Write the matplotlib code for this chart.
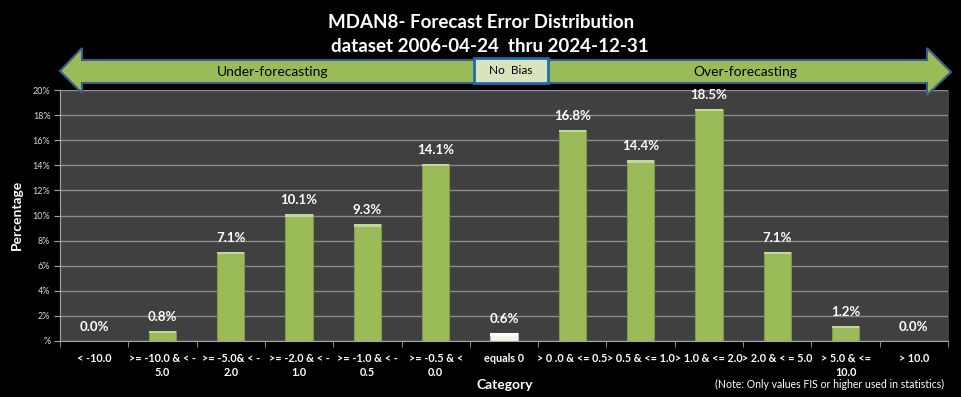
import numpy as np
import matplotlib.pyplot as plt
from matplotlib.patches import Polygon, Rectangle

plt.rcParams['font.family'] = ['Lato', 'DejaVu Sans']

# category labels and percentages
categories = ['< -10.0', '>= -10.0 & < -\n5.0', '>= -5.0& < -\n2.0', '>= -2.0 & < -\n1.0',
              '>= -1.0 & < -\n0.5', '>= -0.5 & <\n0.0', 'equals 0', '> 0 .0 & <= 0.5',
              '> 0.5 & <= 1.0', '> 1.0 & <= 2.0', '> 2.0 & < = 5.0', '> 5.0 & <=\n10.0', '> 10.0']
percent = [0.0, 0.8, 7.1, 10.1, 9.3, 14.1, 0.6, 16.8, 14.4, 18.5, 7.1, 1.2, 0.0]
ytick_labels = ['%', '2%', '4%', '6%', '8%', '10%', '12%', '14%', '16%', '18%', '20%']

W, H = 961, 397
fig = plt.figure(figsize=(W / 100, H / 100), dpi=100, facecolor='black')

def fx(px):
    return px / W

def fy(py):
    return 1 - py / H

ax = fig.add_axes([fx(60), fy(341), fx(948) - fx(60), fy(90) - fy(341)])
ax.set_facecolor('#404040')

x = np.arange(len(categories))
colors = ['#F2F5EA' if c == 'equals 0' else '#9BBB59' for c in categories]
edges = ['#B9C79A' if c == 'equals 0' else '#7F9A48' for c in categories]
bars = ax.bar(x, percent, width=0.4, color=colors, edgecolor=edges, linewidth=0.8, zorder=3)
# light bevel on the top of each bar
for b, p, c in zip(bars, percent, categories):
    if p > 0:
        top = '#FFFFFF' if c == 'equals 0' else '#C3D69B'
        ax.bar(b.get_x() + b.get_width() / 2, 0.18, bottom=p - 0.18, width=0.4,
               color=top, linewidth=0, zorder=4)

for xi, p in zip(x, percent):
    ax.text(xi, p + 0.65, f'{p:.1f}%', ha='center', va='bottom', color='white',
            fontsize=9.5, fontweight='bold', zorder=5)

ax.set_xlim(-0.5, len(categories) - 0.5)
ax.set_ylim(0, 20)
ax.set_yticks(np.arange(0, 21, 2))
ax.set_yticklabels(ytick_labels, color='#D9D9D9', fontsize=6.5)
ax.yaxis.grid(True, color='#8C8C8C', linewidth=1)
ax.set_axisbelow(True)

ax.set_xticks(x)
ax.set_xticklabels(categories, color='white', fontsize=7.8, fontweight='bold', linespacing=1.3)
ax.tick_params(axis='x', length=0, pad=9)
ax.set_xticks(np.arange(-0.5, len(categories)), minor=True)
ax.tick_params(axis='x', which='minor', length=4, color='#A6A6A6')
ax.tick_params(axis='y', length=4, color='#A6A6A6', pad=3)

for s in ['top', 'right']:
    ax.spines[s].set_visible(False)
ax.spines['left'].set_color('#A6A6A6')
ax.spines['bottom'].set_color('#A6A6A6')
ax.spines['right'].set_visible(True)
ax.spines['right'].set_color('#404040')

fig.text(fx(17), fy(215), 'Percentage', rotation=90, ha='center', va='center',
         color='white', fontsize=10, fontweight='bold')
fig.text(fx(505), fy(385), 'Category', ha='center', va='center',
         color='white', fontsize=10, fontweight='bold')
fig.text(fx(830), fy(384), '(Note: Only values FIS or higher used in statistics)', ha='center',
         va='center', color='white', fontsize=7.6)

fig.text(fx(481), fy(22), 'MDAN8- Forecast Error Distribution', ha='center', va='center',
         color='white', fontsize=13.5, fontweight='bold')
fig.text(fx(490), fy(46), 'dataset 2006-04-24  thru 2024-12-31', ha='center', va='center',
         color='white', fontsize=13.5, fontweight='bold')

# double headed arrow band
pts = [(60, 71), (82, 48), (82, 60), (927, 60), (927, 48), (951, 72),
       (927, 95), (927, 83), (82, 83), (82, 93)]
arrow = Polygon([(fx(a), fy(b)) for a, b in pts], closed=True, transform=fig.transFigure,
                facecolor='#9BBB59', edgecolor='#3B5E8C', linewidth=1.5, zorder=10)
fig.patches.append(arrow)
box = Rectangle((fx(474), fy(83)), fx(548) - fx(474), fy(58) - fy(83), transform=fig.transFigure,
                facecolor='#D7E4BD', edgecolor='#1F6BB0', linewidth=2, zorder=11)
fig.patches.append(box)
fig.text(fx(511), fy(71), 'No  Bias', ha='center', va='center', fontsize=8.5, color='black', zorder=12)
fig.text(fx(273), fy(72), 'Under-forecasting', ha='center', va='center', fontsize=10, color='black', zorder=12)
fig.text(fx(745), fy(72), 'Over-forecasting', ha='center', va='center', fontsize=10, color='black', zorder=12)

fig.savefig('out.png', dpi=100, facecolor='black')
